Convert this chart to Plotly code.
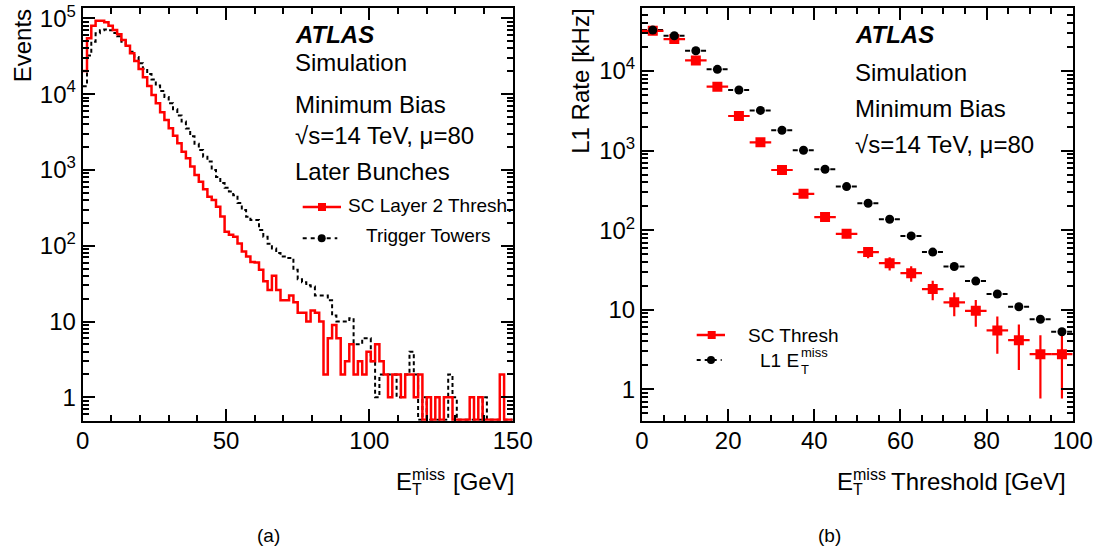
import plotly.graph_objects as go
import numpy as np

W, H = 1096, 552
FONT = "Liberation Sans, Arial, sans-serif"

# ---------------- data: left panel (histograms, 100 bins of 1.5 GeV over 0-150) ----------------
bin_width = 1.5
n_bins = 100
sc_layer2 = [20100, 54400, 79900, 93100, 93100, 88400, 79900, 70200, 61500, 51700,
             43400, 34500, 27300, 21400, 16700, 12800, 9730, 7560, 5750, 4550,
             3540, 2830, 2250, 1740, 1420, 1110, 857, 700, 555, 443,
             401, 327, 242, 153, 139, 131, 107, 84, 72, 61,
             60, 48, 34, 26, 40, 26, 19, 19, 22, 18,
             13, 13, 10, 14, 13, 10, 2, 6, 9, 6,
             2, 3, 5, 2, 3, 2, 4, 3, 5, 3,
             2, 1, 2, 2, 1, 2, 2, 1, 2, 0,
             1, 0, 1, 0, 1, 1, 0, 0, 0, 0,
             1, 0, 1, 0, 0, 0, 0, 2, 0, 0]
trigger_towers = [12700, 32300, 49200, 63500, 69700, 71400, 69700, 64200, 57800, 49200,
                  43200, 36200, 30800, 25600, 21600, 18400, 15600, 13000, 11000, 9150,
                  7590, 6300, 5230, 4340, 3510, 2780, 2210, 1830, 1490, 1290,
                  998, 808, 671, 583, 520, 462, 366, 296, 241, 219,
                  219, 161, 131, 106, 92, 80, 72, 69, 69, 48,
                  36, 33, 30, 29, 22, 22, 22, 19, 12, 10,
                  10, 10, 11, 5, 5, 6, 6, 3, 1, 2,
                  2, 2, 2, 1, 2, 2, 4, 2, 0, 1,
                  0, 0, 0, 0, 0, 2, 1, 0, 0, 0,
                  0, 0, 0, 1, 0, 0, 0, 0, 0, 0]

# ---------------- data: right panel (L1 rate vs threshold) ----------------
thresholds = [2.5, 7.5, 12.5, 17.5, 22.5, 27.5, 32.5, 37.5, 42.5, 47.5,
              52.5, 57.5, 62.5, 67.5, 72.5, 77.5, 82.5, 87.5, 92.5, 97.5]
sc_rate = [32000, 25200, 13600, 6360, 2720, 1270, 570, 286, 146, 90,
           53, 38.5, 28.8, 18.2, 12.4, 9.7, 5.5, 4.15, 2.77, 2.77]
sc_rate_err = [210, 187, 137, 94, 61, 42, 28, 20, 14, 11,
               8.5, 7.3, 6.3, 5.0, 4.1, 3.6, 2.7, 2.4, 2.0, 2.0]
l1_rate = [32700, 27700, 18000, 10500, 5770, 3200, 1800, 1010, 583, 353,
           218, 137, 84.7, 53, 35, 22.9, 15.8, 10.9, 7.6, 5.3]
thr_half_width = 2.5

# ---------------- geometry helpers (pixels -> paper) ----------------
def px(x):
    return x / W

def py(y):
    return 1 - y / H

L_X0, L_X1 = 82.7, 512.7
R_X0, R_X1 = 642.0, 1072.7
Y_TOP, Y_BOT = 8.3, 420.7

left_yrange = [-0.3087, 5.1319]
right_yrange = [-0.394, 4.788]

edges = list(np.arange(n_bins + 1) * bin_width)
floor_val = 10 ** (left_yrange[0] + 0.012)

def hist_y(vals):
    v = [x if x > 0 else floor_val for x in vals]
    return v + [v[-1]]

fig = go.Figure()

fig.add_trace(go.Scatter(
    x=edges, y=hist_y(trigger_towers), mode="lines", line_shape="hv",
    line=dict(color="black", width=2, dash="4px,3px"),
    xaxis="x", yaxis="y", showlegend=False, hoverinfo="skip"))
fig.add_trace(go.Scatter(
    x=edges, y=hist_y(sc_layer2), mode="lines", line_shape="hv",
    line=dict(color="#ff0000", width=2.5),
    xaxis="x", yaxis="y", showlegend=False, hoverinfo="skip"))

# right panel: black dashed horizontal bars
bx, by = [], []
for t, v in zip(thresholds, l1_rate):
    bx += [t - thr_half_width, t + thr_half_width, None]
    by += [v, v, None]
fig.add_trace(go.Scatter(
    x=bx, y=by, mode="lines", line=dict(color="black", width=2, dash="5px,3px"),
    xaxis="x2", yaxis="y2", showlegend=False, hoverinfo="skip"))
fig.add_trace(go.Scatter(
    x=thresholds, y=sc_rate, mode="markers",
    marker=dict(symbol="square", size=10, color="#ff0000"),
    error_y=dict(type="data", array=sc_rate_err, color="#ff0000", thickness=2.2, width=0),
    error_x=dict(type="constant", value=thr_half_width, color="#ff0000", thickness=2.2, width=0),
    xaxis="x2", yaxis="y2", showlegend=False, hoverinfo="skip"))
fig.add_trace(go.Scatter(
    x=thresholds, y=l1_rate, mode="markers",
    marker=dict(symbol="circle", size=9, color="black"),
    xaxis="x2", yaxis="y2", showlegend=False, hoverinfo="skip"))

# ---------------- axes ----------------
def log_minor(lo, hi):
    vals = []
    for d in range(lo, hi + 1):
        for m in range(2, 10):
            vals.append(m * 10.0 ** d)
    return vals

tickfont = dict(family=FONT, size=24, color="black")
common_axis = dict(showline=True, linecolor="black", linewidth=2, mirror="ticks",
                   ticks="inside", ticklen=12, tickwidth=1.5, tickcolor="black",
                   showgrid=False, zeroline=False, tickfont=tickfont,
                   ticklabeloverflow="allow", automargin=False)

fig.update_layout(
    xaxis=dict(domain=[px(L_X0), px(L_X1)], range=[0, 150], anchor="y",
               tickvals=[0, 50, 100, 150], ticklabelstandoff=-3,
               minor=dict(ticks="inside", ticklen=6, tickwidth=1.5, dtick=10, tick0=0,
                          tickcolor="black", showgrid=False),
               **common_axis),
    yaxis=dict(domain=[py(Y_BOT), py(Y_TOP)], type="log", range=left_yrange, anchor="x",
               tickvals=[1, 10, 100, 1000, 1e4, 1e5],
               ticktext=["1", "10", "10<sup>2</sup>", "10<sup>3</sup>", "10<sup>4</sup>", "10<sup>5</sup>"],
               minor=dict(ticks="inside", ticklen=6, tickwidth=1.5, tickcolor="black",
                          tickvals=log_minor(-1, 5), showgrid=False),
               **common_axis),
    xaxis2=dict(domain=[px(R_X0), px(R_X1)], range=[0, 100], anchor="y2",
                tickvals=[0, 20, 40, 60, 80, 100], ticklabelstandoff=-3,
                minor=dict(ticks="inside", ticklen=6, tickwidth=1.5, dtick=5, tick0=0,
                           tickcolor="black", showgrid=False),
                **common_axis),
    yaxis2=dict(domain=[py(Y_BOT), py(Y_TOP)], type="log", range=right_yrange, anchor="x2",
                tickvals=[1, 10, 100, 1000, 1e4],
                ticktext=["1", "10", "10<sup>2</sup>", "10<sup>3</sup>", "10<sup>4</sup>"],
                minor=dict(ticks="inside", ticklen=6, tickwidth=1.5, tickcolor="black",
                           tickvals=log_minor(-1, 4), showgrid=False),
                **common_axis),
    width=W, height=H, autosize=False, margin=dict(l=0, r=0, t=0, b=0, autoexpand=False),
    paper_bgcolor="white", plot_bgcolor="white", showlegend=False,
    font=dict(family=FONT, color="black"),
)

# ---------------- annotations ----------------
anns = []

def ann(text, x, y_base, size, xanchor="left", bold=False, italic=False, yc=None):
    t = text
    if bold:
        t = "<b>" + t + "</b>"
    if italic:
        t = "<i>" + t + "</i>"
    if yc is None:
        yc = y_base - 0.347 * size
    anns.append(dict(text=t, x=px(x), y=py(yc), xref="paper", yref="paper",
                     xanchor=xanchor, yanchor="middle", showarrow=False,
                     borderpad=0, font=dict(family=FONT, size=size, color="black")))

# left panel texts
ann("ATLAS", 294.3, 43.3, 24, bold=True, italic=True)
ann("Simulation", 294.3, 70.7, 24)
ann("Minimum Bias", 294.3, 112.7, 24)
ann("√s=14 TeV, μ=80", 294.3, 144.0, 24)
ann("Later Bunches", 294.3, 180.0, 24)
ann("SC Layer 2 Thresh.", 347.3, 211.7, 19)
ann("Trigger Towers", 365.0, 242.3, 19)

# right panel texts
ann("ATLAS", 854.3, 43.3, 24, bold=True, italic=True)
ann("Simulation", 854.3, 81.0, 24)
ann("Minimum Bias", 854.3, 116.7, 24)
ann("√s=14 TeV, μ=80", 854.3, 153.3, 24)
ann("SC Thresh", 746.7, 341.7, 19)
ann("L1 E", 759.3, 366.7, 19)
ann("miss", 799.5, 357.5, 13)
ann("T", 799.5, 374.5, 13)

# x-axis titles
ann("E", 395.0, 490.0, 24)
ann("miss", 411.0, 480.0, 16)
ann("T", 411.0, 495.5, 16)
ann("[GeV]", 451.7, 490.0, 24)

ann("E", 836.0, 490.0, 24)
ann("miss", 852.0, 480.0, 16)
ann("T", 852.0, 495.5, 16)
ann("Threshold [GeV]", 889.5, 490.0, 24)

# y-axis titles (rotated, aligned to axis top)
anns.append(dict(text="Events", x=px(22.5), y=py(Y_TOP), xref="paper", yref="paper",
                 xanchor="center", yanchor="top", showarrow=False, textangle=-90, borderpad=0,
                 font=dict(family=FONT, size=24, color="black")))
anns.append(dict(text="L1 Rate [kHz]", x=px(581.0), y=py(Y_TOP), xref="paper", yref="paper",
                 xanchor="center", yanchor="top", showarrow=False, textangle=-90, borderpad=0,
                 font=dict(family=FONT, size=24, color="black")))

# panel labels
ann("(a)", 268.0, 542.5, 19, xanchor="center")
ann("(b)", 829.0, 542.5, 19, xanchor="center")

fig.update_layout(annotations=anns)

# ---------------- legend glyphs ----------------
shapes = []

def hline(x0, x1, y, color, width, dash="solid"):
    shapes.append(dict(type="line", xref="paper", yref="paper", x0=px(x0), x1=px(x1),
                       y0=py(y), y1=py(y), line=dict(color=color, width=width, dash=dash)))

def square(xc, yc, s, color):
    shapes.append(dict(type="rect", xref="paper", yref="paper", x0=px(xc - s / 2), x1=px(xc + s / 2),
                       y0=py(yc + s / 2), y1=py(yc - s / 2), fillcolor=color, line=dict(width=0)))

def circle(xc, yc, s, color):
    shapes.append(dict(type="circle", xref="paper", yref="paper", x0=px(xc - s / 2), x1=px(xc + s / 2),
                       y0=py(yc + s / 2), y1=py(yc - s / 2), fillcolor=color, line=dict(width=0)))

hline(302.7, 341.0, 207.0, "#ff0000", 2.5)
square(322.0, 207.0, 8, "#ff0000")
hline(302.7, 337.3, 238.3, "black", 2, dash="4px,4px")
circle(321.7, 238.3, 8, "black")

hline(696.7, 725.0, 335.0, "#ff0000", 2.5)
square(711.7, 335.0, 8, "#ff0000")
hline(696.7, 721.7, 360.0, "black", 2, dash="4px,4px")
circle(711.0, 360.0, 8, "black")

fig.update_layout(shapes=shapes)

post = ("document.documentElement.style.margin='0';document.documentElement.style.overflow='hidden';"
        "document.body.style.margin='0';document.body.style.padding='0';document.body.style.overflow='hidden';"
        "var gd=document.getElementById('{plot_id}');"
        "Plotly.relayout(gd,{width:1096,height:552});")

fig.write_html("out.html", config={"responsive": False, "displayModeBar": False}, post_script=post)
